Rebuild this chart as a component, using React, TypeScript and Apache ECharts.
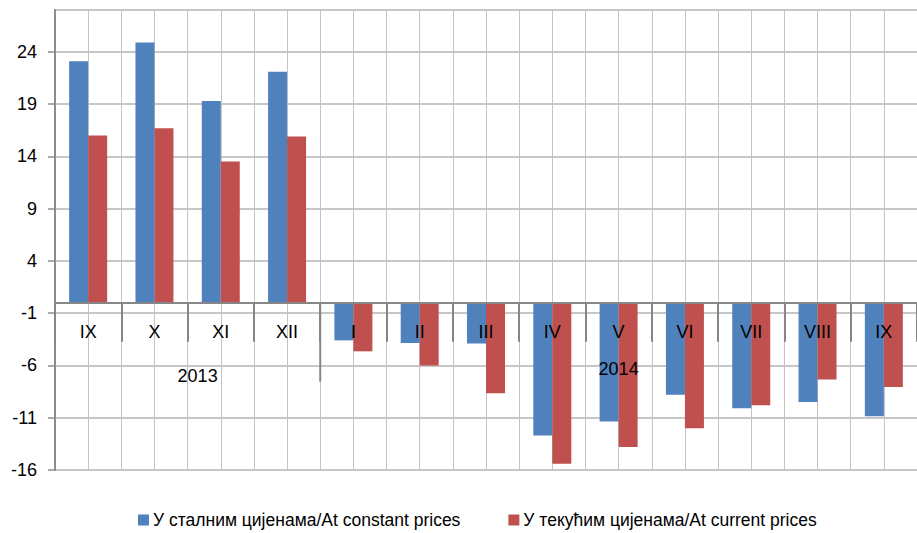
import React, { useEffect, useRef } from "react";
import * as echarts from "echarts";

const months = ["IX", "X", "XI", "XII", "I", "II", "III", "IV", "V", "VI", "VII", "VIII", "IX"];
const constantPrices = [23.1, 24.9, 19.3, 22.1, -3.6, -3.85, -3.9, -12.7, -11.35, -8.8, -10.1, -9.5, -10.85];
const currentPrices = [16.0, 16.7, 13.5, 15.9, -4.65, -6.0, -8.65, -15.4, -13.8, -12.0, -9.8, -7.35, -8.05];
const years = ["2013", "2014"];
const seriesNames = ["У сталним цијенама/At constant prices", "У текућим цијенама/At current prices"];
const yMin = -16;
const yMax = 28;
const yStep = 5;

const FONT = "'Liberation Sans Narrow', 'Arial Narrow', 'Liberation Sans', Arial, sans-serif";

export default function App() {
  const ref = useRef<HTMLDivElement>(null);
  useEffect(() => {
    if (!ref.current) return;
    const chart = echarts.init(ref.current, null, { renderer: "svg" });
    const gridTop = 10;
    const gridBottom = 63;
    const gridH = 533 - gridTop - gridBottom;
    const zeroOffset = -(gridH * (0 - yMin)) / (yMax - yMin);
    const halfBands = months.flatMap((m, i) => [m + "a" + i, m + "b" + i]);
    chart.setOption({
      animation: false,
      textStyle: { fontFamily: FONT },
      grid: { left: 55, right: -7, top: gridTop, bottom: gridBottom, containLabel: false },
      legend: {
        left: 138,
        top: 511,
        padding: 0,
        itemWidth: 11,
        itemHeight: 11,
        itemGap: 48,
        icon: "rect",
        textStyle: { fontFamily: FONT, fontSize: 17.5, color: "#000", padding: [0, 0, 0, -1] },
        data: seriesNames,
      },
      xAxis: [
        {
          type: "category",
          data: months,
          position: "bottom",
          offset: zeroOffset,
          axisLine: { onZero: false, lineStyle: { color: "#868686", width: 2 } },
          axisTick: { show: true, length: 39, lineStyle: { color: "#868686", width: 2 } },
          axisLabel: { fontFamily: FONT, fontSize: 18, color: "#000", margin: 20, interval: 0 },
          splitLine: { show: false },
          z: 5,
        },
        {
          type: "category",
          data: halfBands,
          position: "top",
          axisLine: { show: false, onZero: false },
          axisTick: { show: false },
          axisLabel: { show: false },
          splitLine: { show: true, interval: 0, lineStyle: { color: "#c4c4c4", width: 1 } },
        },
      ],
      yAxis: {
        type: "value",
        min: yMin,
        max: yMax,
        interval: yStep,
        axisLine: { show: true, lineStyle: { color: "#8c8c8c", width: 2 } },
        axisTick: { show: true, length: 7, lineStyle: { color: "#8c8c8c", width: 1.5 } },
        axisLabel: { fontFamily: FONT, fontSize: 18, color: "#000", margin: 18, showMaxLabel: false },
        splitLine: { show: true, lineStyle: { color: "#b4b4b4", width: 1.5 } },
      },
      series: [
        {
          name: seriesNames[0],
          type: "bar",
          data: constantPrices,
          barWidth: 19,
          barGap: "0%",
          itemStyle: { color: "#4f81bd" },
          z: 3,
        },
        {
          name: seriesNames[1],
          type: "bar",
          data: currentPrices,
          barWidth: 19,
          barGap: "0%",
          itemStyle: { color: "#c0504d" },
          z: 3,
        },
      ],
    });

    const px = (i: number) => chart.convertToPixel({ xAxisIndex: 0 }, i) as number;
    const zeroY = chart.convertToPixel({ yAxisIndex: 0 }, 0) as number;
    const x2013 = (px(1) + px(2)) / 2 + 10;
    const x2014 = px(8);
    const yearSplitX = (px(3) + px(4)) / 2;
    chart.setOption({
      graphic: [
        {
          type: "line",
          z: 10,
          shape: { x1: yearSplitX, y1: zeroY, x2: yearSplitX, y2: zeroY + 79 },
          style: { stroke: "#868686", lineWidth: 2 },
        },
        {
          type: "text",
          x: x2013,
          y: 376,
          z: 10,
          style: { text: years[0], fontFamily: FONT, fontSize: 18, fill: "#000", align: "center", verticalAlign: "middle" },
        },
        {
          type: "text",
          x: x2014,
          y: 369,
          z: 10,
          style: { text: years[1], fontFamily: FONT, fontSize: 18, fill: "#000", align: "center", verticalAlign: "middle" },
        },
      ],
    });
    return () => chart.dispose();
  }, []);
  return (
    <div
      ref={ref}
      style={{ position: "absolute", left: 0, top: 0, width: 917, height: 533, background: "#fff" }}
    />
  );
}
